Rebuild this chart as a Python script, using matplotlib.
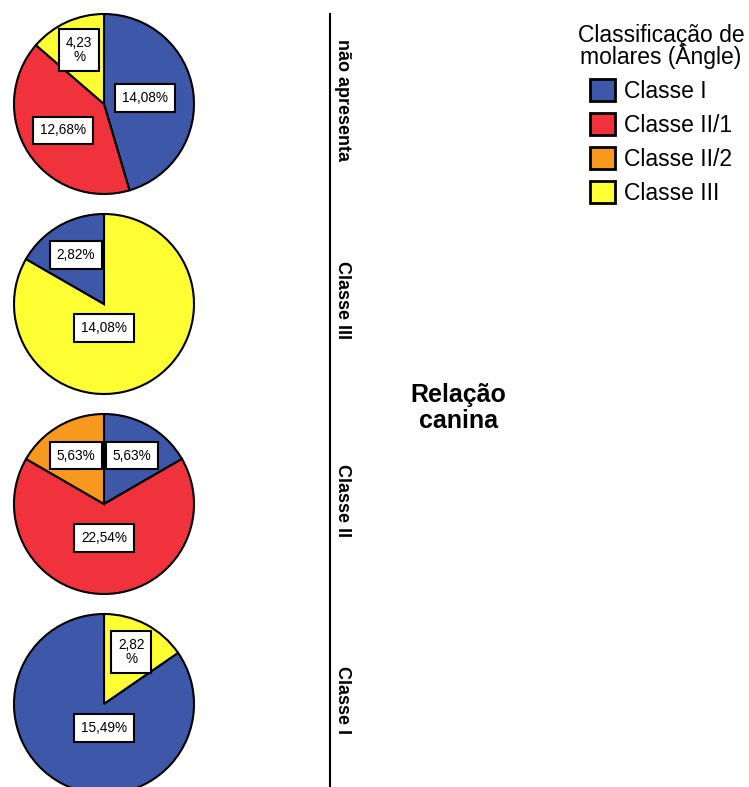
import numpy as np
import matplotlib.pyplot as plt
from matplotlib.patches import Patch

plt.rcParams['font.family'] = ['Liberation Sans', 'DejaVu Sans']

W, H = 749, 787

classes = ['Classe I', 'Classe II/1', 'Classe II/2', 'Classe III']
class_colors = ['#3d58a9', '#f0323c', '#f7981f', '#ffff33']
color_of = dict(zip(classes, class_colors))

canine_groups = ['não apresenta', 'Classe III', 'Classe II', 'Classe I']

# slices go clockwise from 12 o'clock
slice_classes = [
    ['Classe I', 'Classe II/1', 'Classe III'],
    ['Classe III', 'Classe I'],
    ['Classe I', 'Classe II/1', 'Classe II/2'],
    ['Classe III', 'Classe I'],
]
slice_values = [
    [14.08, 12.68, 4.23],
    [14.08, 2.82],
    [5.63, 22.54, 5.63],
    [2.82, 15.49],
]

# how far out (fraction of radius) each value box sits
label_dist = [
    [0.46, 0.54, 0.66],
    [0.27, 0.63],
    [0.62, 0.38, 0.62],
    [0.65, 0.27],
]

fig = plt.figure(figsize=(W / 100, H / 100), dpi=100)
ax = fig.add_axes([0, 0, 1, 1])

R = 90
cx = 104
for i, grp in enumerate(canine_groups):
    cy = H - (104 + 200 * i)
    vals = slice_values[i]
    cols = [color_of[c] for c in slice_classes[i]]
    ax.pie(vals, colors=cols, startangle=90, counterclock=False,
           center=(cx, cy), radius=R, frame=True,
           wedgeprops=dict(edgecolor='black', linewidth=1.5))

    total = sum(vals)
    start = 0.0
    for v, d in zip(vals, label_dist[i]):
        span = v / total * 360
        mid = start + span / 2
        if span > 180:
            mid = 180
        a = np.deg2rad(mid)
        lx = cx + d * R * np.sin(a)
        ly = cy + d * R * np.cos(a)
        txt = f'{v:.2f}'.replace('.', ',')
        txt = txt + ('\n%' if span < 58 else '%')
        ax.text(lx, ly, txt, ha='center', va='center', fontsize=9.8,
                linespacing=1.0,
                bbox=dict(boxstyle='square,pad=0.5', fc='white', ec='black', lw=1.5))
        start += span

    ax.text(343, H - (100 + 200 * i), grp, rotation=-90, ha='center', va='center',
            fontsize=13, fontweight='bold')

ax.plot([330, 330], [0, H - 14], color='black', lw=1.5)

ax.text(458, H - 408, 'Relação\ncanina', ha='center', va='center',
        fontsize=18, fontweight='bold', linespacing=1.13)

handles = [Patch(facecolor=c, edgecolor='black', linewidth=2, label=l)
           for l, c in zip(classes, class_colors)]
leg = ax.legend(handles=handles, title='Classificação de\nmolares (Ângle)',
                loc='upper center', bbox_to_anchor=(661 / W, 1 - 24 / H),
                frameon=False, fontsize=16.5, title_fontsize=16.5,
                handlelength=1.1, handleheight=1.1, handletextpad=0.4,
                labelspacing=0.45, borderpad=0, borderaxespad=0)
leg.get_title().set_multialignment('center')
leg.get_title().set_linespacing(0.8)

ax.set_xlim(0, W)
ax.set_ylim(0, H)
ax.set_aspect('equal')
ax.axis('off')

fig.savefig('out.png', dpi=100)
